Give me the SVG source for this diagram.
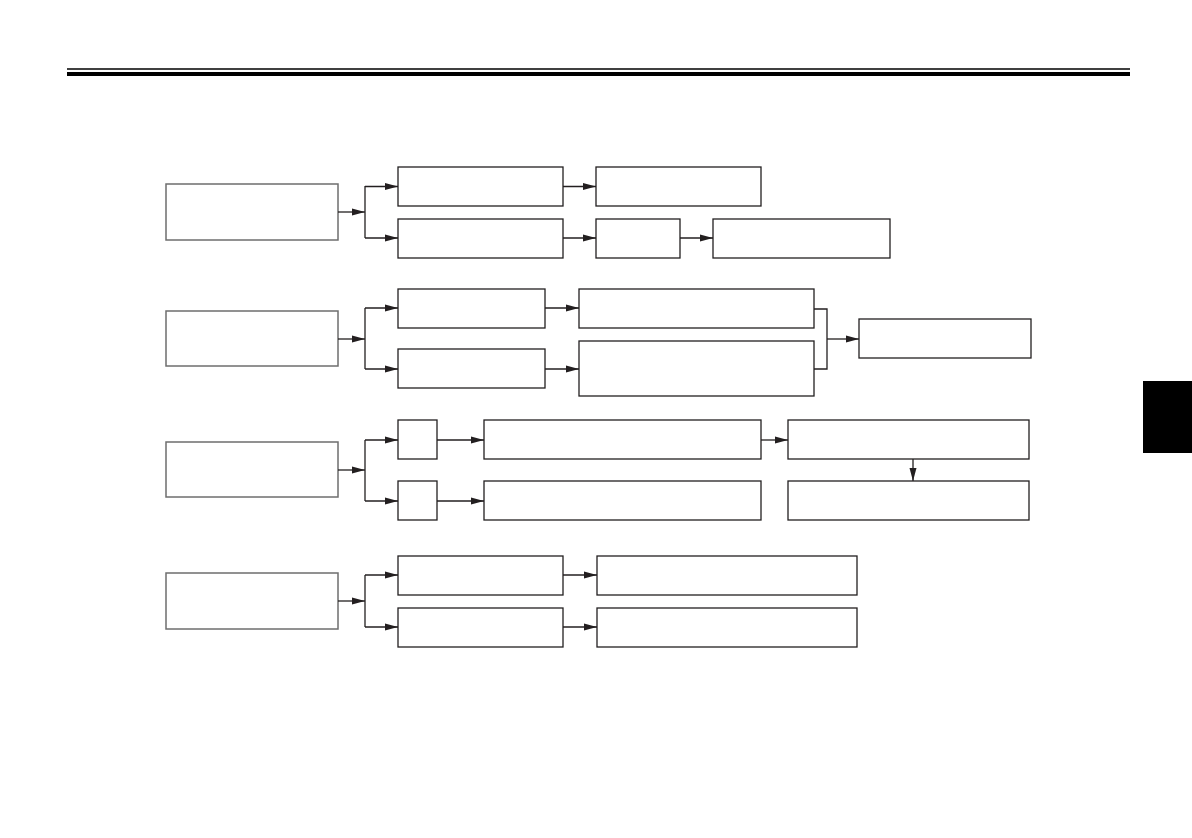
<svg xmlns="http://www.w3.org/2000/svg" width="1192" height="838" viewBox="0 0 1192 838">
<defs>
<marker id="ah" markerWidth="13" markerHeight="8" refX="13" refY="4" orient="auto" markerUnits="userSpaceOnUse">
<path d="M0,0.5 L13,4 L0,7.5 Z" fill="#231f20"/>
</marker>
</defs>
<style>
.b{fill:#fff;stroke:#231f20;stroke-width:1.3}
.g{fill:#fff;stroke:#6e6e6e;stroke-width:1.5}
.c{fill:none;stroke:#231f20;stroke-width:1.3}
.a{fill:none;stroke:#231f20;stroke-width:1.3;marker-end:url(#ah)}
</style>
<rect width="1192" height="838" fill="#fff"/>
<g id="header">
<line x1="67" y1="69" x2="1130" y2="69" stroke="#000" stroke-width="1.3"/>
<rect x="67" y="72" width="1063" height="4" fill="#000"/>
<rect x="1143" y="381" width="49" height="72" fill="#000"/>
</g>
<g id="row1">
<g id="n1a"><rect class="g" x="166" y="184" width="172" height="56"/></g>
<g id="n1b"><rect class="b" x="398" y="167" width="165" height="39"/></g>
<g id="n1c"><rect class="b" x="596" y="167" width="165" height="39"/></g>
<g id="n1d"><rect class="b" x="398" y="219" width="165" height="39"/></g>
<g id="n1e"><rect class="b" x="596" y="219" width="84" height="39"/></g>
<g id="n1f"><rect class="b" x="713" y="219" width="177" height="39"/></g>
</g>
<g id="row2">
<g id="n2a"><rect class="g" x="166" y="311" width="172" height="55"/></g>
<g id="n2b"><rect class="b" x="398" y="289" width="147" height="39"/></g>
<g id="n2c"><rect class="b" x="579" y="289" width="235" height="39"/></g>
<g id="n2d"><rect class="b" x="398" y="349" width="147" height="39"/></g>
<g id="n2e"><rect class="b" x="579" y="341" width="235" height="55"/></g>
<g id="n2f"><rect class="b" x="859" y="319" width="172" height="39"/></g>
</g>
<g id="row3">
<g id="n3a"><rect class="g" x="166" y="442" width="172" height="55"/></g>
<g id="n3b"><rect class="b" x="398" y="420" width="39" height="39"/></g>
<g id="n3c"><rect class="b" x="484" y="420" width="277" height="39"/></g>
<g id="n3d"><rect class="b" x="788" y="420" width="241" height="39"/></g>
<g id="n3e"><rect class="b" x="398" y="481" width="39" height="39"/></g>
<g id="n3f"><rect class="b" x="484" y="481" width="277" height="39"/></g>
<g id="n3g"><rect class="b" x="788" y="481" width="241" height="39"/></g>
</g>
<g id="row4">
<g id="n4a"><rect class="g" x="166" y="573" width="172" height="56"/></g>
<g id="n4b"><rect class="b" x="398" y="556" width="165" height="39"/></g>
<g id="n4c"><rect class="b" x="597" y="556" width="260" height="39"/></g>
<g id="n4d"><rect class="b" x="398" y="608" width="165" height="39"/></g>
<g id="n4e"><rect class="b" x="597" y="608" width="260" height="39"/></g>
</g>
<g id="connectors">
<path class="a" d="M338,212 H365"/>
<path class="c" d="M365,186 V238"/>
<path class="a" d="M365,186.5 H398"/>
<path class="a" d="M365,238 H398"/>
<path class="a" d="M563,186.5 H596"/>
<path class="a" d="M563,238 H596"/>
<path class="a" d="M680,238 H713"/>

<path class="a" d="M338,339 H365"/>
<path class="c" d="M365,308 V369"/>
<path class="a" d="M365,308 H398"/>
<path class="a" d="M365,369 H398"/>
<path class="a" d="M545,308 H579"/>
<path class="a" d="M545,369 H579"/>
<path class="c" d="M814,309 H827 V369 H814"/>
<path class="a" d="M827,339 H859"/>

<path class="a" d="M338,470 H365"/>
<path class="c" d="M365,440 V501"/>
<path class="a" d="M365,440 H398"/>
<path class="a" d="M365,501 H398"/>
<path class="a" d="M437,440 H484"/>
<path class="a" d="M437,501 H484"/>
<path class="a" d="M761,440 H788"/>
<path class="a" d="M913,459 V481"/>

<path class="a" d="M338,601 H365"/>
<path class="c" d="M365,575 V627"/>
<path class="a" d="M365,575 H398"/>
<path class="a" d="M365,627 H398"/>
<path class="a" d="M563,575 H597"/>
<path class="a" d="M563,627 H597"/>
</g>
</svg>
